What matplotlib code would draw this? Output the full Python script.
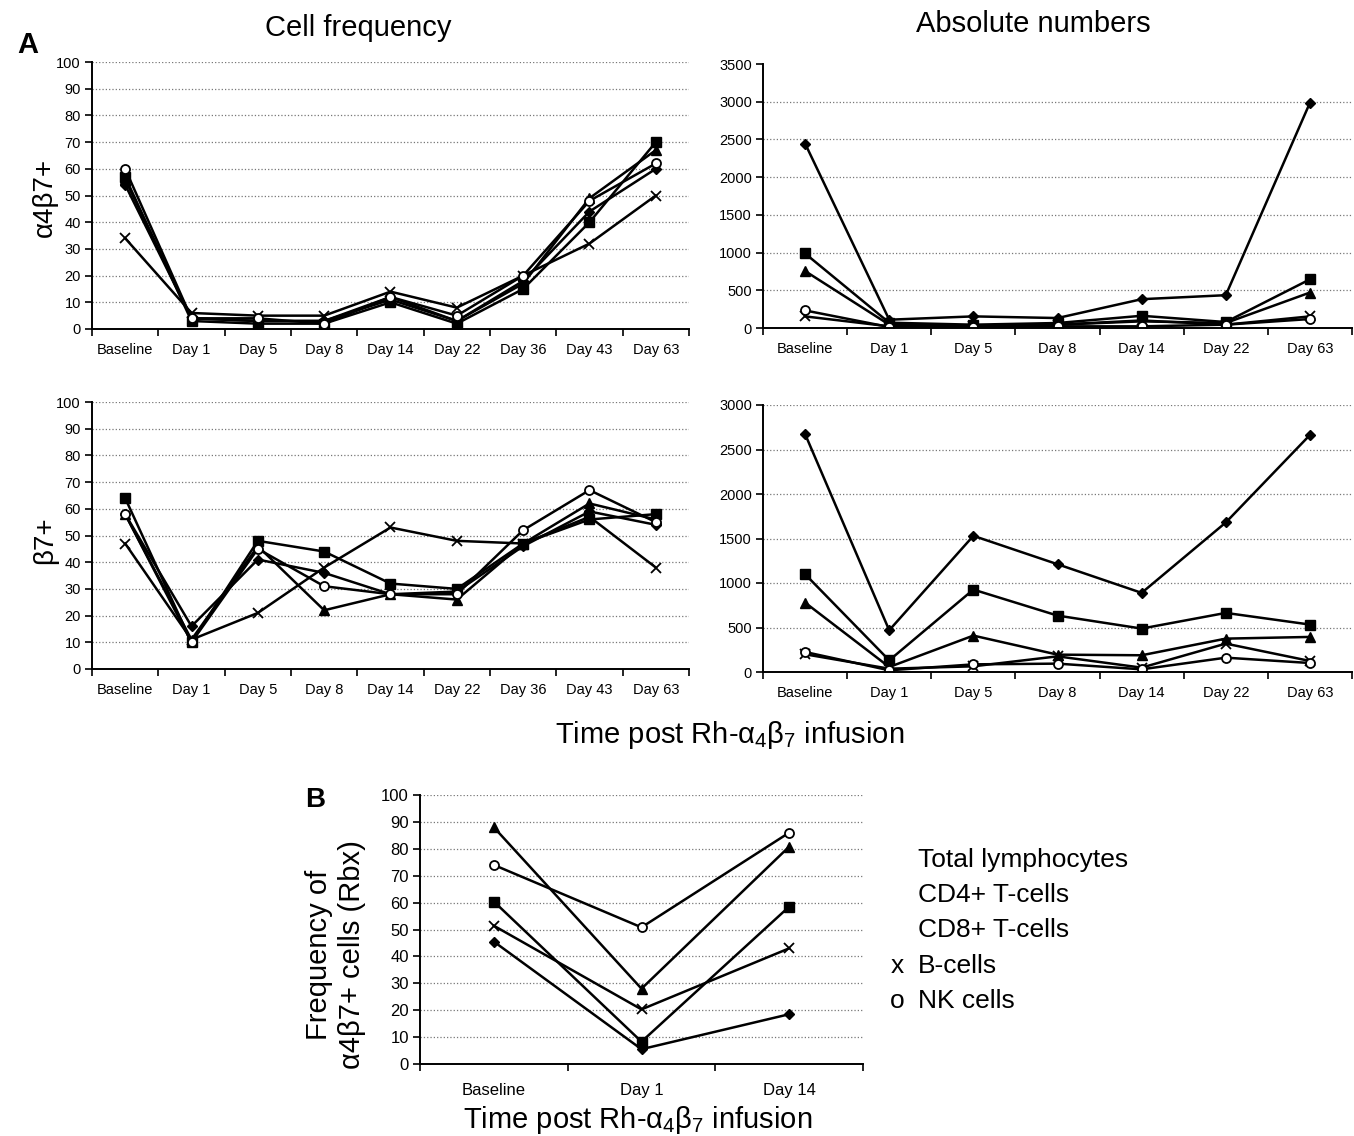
import matplotlib
matplotlib.use("Agg")
import matplotlib.pyplot as plt
import numpy as np

plt.rcParams['font.family'] = ['Liberation Sans', 'DejaVu Sans']
plt.rcParams['mathtext.fontset'] = 'custom'
plt.rcParams['mathtext.rm'] = 'Liberation Sans'
plt.rcParams['mathtext.it'] = 'Liberation Sans'
plt.rcParams['mathtext.bf'] = 'Liberation Sans:bold'

# ---------------- data ----------------
series_names = ["Total lymphocytes", "CD4+ T-cells", "CD8+ T-cells", "B-cells", "NK cells"]

days_freq = ["Baseline", "Day 1", "Day 5", "Day 8", "Day 14", "Day 22", "Day 36", "Day 43", "Day 63"]
days_abs = ["Baseline", "Day 1", "Day 5", "Day 8", "Day 14", "Day 22", "Day 63"]
days_b = ["Baseline", "Day 1", "Day 14"]

# alpha4beta7+ cell frequency (%)
a47_freq_total = [54, 4, 3, 3, 11, 3, 18, 44, 60]
a47_freq_cd4 = [57, 3, 2, 2, 10, 2, 15, 40, 70]
a47_freq_cd8 = [56, 4, 3, 3, 12, 3, 17, 49, 67]
a47_freq_b = [34, 6, 5, 5, 14, 8, 20, 32, 50]
a47_freq_nk = [60, 4, 4, 2, 12, 5, 20, 48, 62]

# alpha4beta7+ absolute numbers
a47_abs_total = [2446, 110, 154, 132, 382, 435, 2986]
a47_abs_cd4 = [988, 70, 44, 66, 162, 79, 645]
a47_abs_cd8 = [755, 44, 31, 44, 88, 66, 470]
a47_abs_b = [154, 22, 31, 44, 100, 44, 154]
a47_abs_nk = [233, 13, 13, 22, 22, 44, 119]

# beta7+ cell frequency (%)
b7_freq_total = [58, 16, 41, 36, 28, 29, 46, 59, 54]
b7_freq_cd4 = [64, 10, 48, 44, 32, 30, 47, 56, 58]
b7_freq_cd8 = [58, 11, 46, 22, 28, 26, 47, 62, 56]
b7_freq_b = [47, 11, 21, 38, 53, 48, 47, 57, 38]
b7_freq_nk = [58, 10, 45, 31, 28, 28, 52, 67, 55]

# beta7+ absolute numbers
b7_abs_total = [2674, 469, 1530, 1211, 889, 1680, 2663]
b7_abs_cd4 = [1099, 131, 926, 634, 488, 664, 533]
b7_abs_cd8 = [780, 56, 409, 195, 188, 375, 394]
b7_abs_b = [199, 37, 64, 176, 49, 319, 124]
b7_abs_nk = [225, 19, 86, 94, 30, 161, 101]

# Panel B: frequency of alpha4beta7+ cells (Rbx)
rbx_total = [45.5, 5.5, 18.5]
rbx_cd4 = [60.4, 8.3, 58.5]
rbx_cd8 = [88, 28, 80.8]
rbx_b = [51.4, 20.3, 43]
rbx_nk = [74, 50.8, 86]

styles = [
    dict(marker='D', markersize=5, mfc='black', mec='black'),
    dict(marker='s', markersize=7, mfc='black', mec='black'),
    dict(marker='^', markersize=7, mfc='black', mec='black'),
    dict(marker='x', markersize=7, mfc='black', mec='black', mew=1.3),
    dict(marker='o', markersize=6.5, mfc='white', mec='black', mew=1.3),
]

W, H = 1354, 1136
fig = plt.figure(figsize=(W / 100, H / 100), dpi=100)
fig.patch.set_facecolor('white')


def rect(l, t, r, b):
    return [l / W, 1 - b / H, (r - l) / W, (b - t) / H]


def make_panel(r, cats, data, ymax, ystep, tick_fs, ytick_fs, top_grid=True):
    ax = fig.add_axes(rect(*r))
    n = len(cats)
    x = np.arange(n)
    for vals, st in zip(data, styles):
        ax.plot(x, vals, color='black', lw=1.8, **st)
    ax.set_xlim(-0.5, n - 0.5)
    ax.set_ylim(0, ymax)
    ax.set_yticks(np.arange(0, ymax + ystep / 2, ystep))
    ax.yaxis.grid(True, linestyle=':', color='#777777', lw=0.9)
    if not top_grid:
        ax.yaxis.get_gridlines()[-1].set_visible(False)
    ax.set_axisbelow(True)
    for s in ['top', 'right']:
        ax.spines[s].set_visible(False)
    for s in ['left', 'bottom']:
        ax.spines[s].set_linewidth(1.4)
    # Excel-style ticks between categories, labels at centres
    ax.set_xticks(np.arange(n + 1) - 0.5)
    ax.set_xticklabels([])
    ax.set_xticks(x, minor=True)
    ax.set_xticklabels(cats, minor=True, fontsize=tick_fs)
    ax.tick_params(axis='x', which='major', length=5, width=1.2, direction='out')
    ax.tick_params(axis='x', which='minor', length=0, pad=10)
    ax.tick_params(axis='y', length=5, width=1.2, direction='out', labelsize=ytick_fs, pad=3)
    return ax


make_panel((92, 62, 689, 329), days_freq,
           [a47_freq_total, a47_freq_cd4, a47_freq_cd8, a47_freq_b, a47_freq_nk],
           100, 10, 10.5, 10.5)
make_panel((763, 64, 1352, 328), days_abs,
           [a47_abs_total, a47_abs_cd4, a47_abs_cd8, a47_abs_b, a47_abs_nk],
           3500, 500, 10.5, 10.5, top_grid=False)
make_panel((92, 402, 689, 669), days_freq,
           [b7_freq_total, b7_freq_cd4, b7_freq_cd8, b7_freq_b, b7_freq_nk],
           100, 10, 10.5, 10.5)
make_panel((763, 405, 1352, 672), days_abs,
           [b7_abs_total, b7_abs_cd4, b7_abs_cd8, b7_abs_b, b7_abs_nk],
           3000, 500, 10.5, 10.5)
axb = make_panel((420, 795, 863, 1064), days_b,
                 [rbx_total, rbx_cd4, rbx_cd8, rbx_b, rbx_nk],
                 100, 10, 12, 12)
axb.tick_params(axis='x', which='minor', pad=14)


def ftext(x, y, s, **kw):
    fig.text(x / W, 1 - y / H, s, **kw)


ftext(358, 28, "Cell frequency", fontsize=21, ha='center', va='center')
ftext(1033, 24, "Absolute numbers", fontsize=21, ha='center', va='center')
ftext(28, 45, "A", fontsize=21, fontweight='bold', ha='center', va='center')
ftext(45, 197, "α4β7+", fontsize=20, rotation=90, ha='center', va='center')
ftext(45, 540, "β7+", fontsize=20, rotation=90, ha='center', va='center')
ftext(730, 735, r"Time post Rh-$\alpha_4\beta_7$ infusion", fontsize=21, ha='center', va='center')

ftext(315, 800, "B", fontsize=20, fontweight='bold', ha='center', va='center')
ftext(319, 955, "Frequency of", fontsize=21, rotation=90, ha='center', va='center')
ftext(352, 955, "α4β7+ cells (Rbx)", fontsize=21, rotation=90, ha='center', va='center')
ftext(638, 1120, r"Time post Rh-$\alpha_4\beta_7$ infusion", fontsize=21, ha='center', va='center')

legend_y = [860, 895, 930, 966, 1001]
legend_prefix = ["", "", "", "x", "o"]
for yy, name, pre in zip(legend_y, series_names, legend_prefix):
    ftext(918, yy, name, fontsize=19, ha='left', va='center')
    if pre:
        ftext(897, yy, pre, fontsize=19, ha='center', va='center')

fig.savefig("out.png", dpi=100, facecolor='white')
